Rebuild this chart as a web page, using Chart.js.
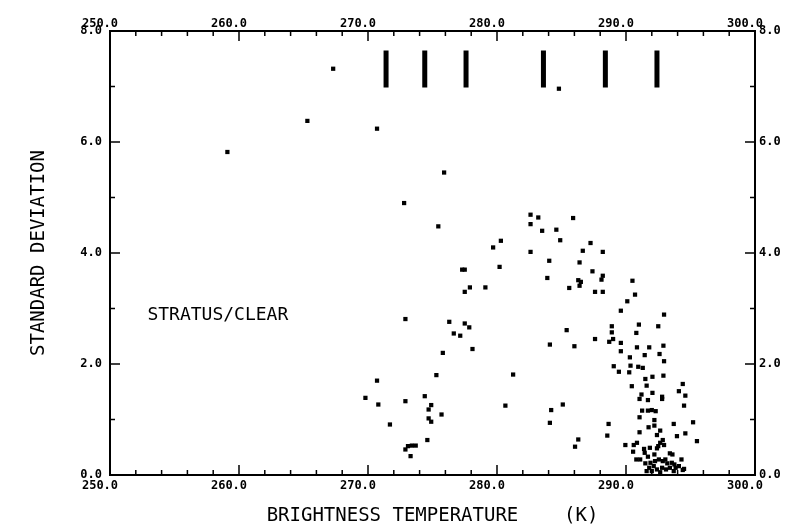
<!DOCTYPE html>
<html>
<head>
<meta charset="utf-8">
<script src="https://cdn.jsdelivr.net/npm/chart.js@4"></script>
<style>
  body { margin: 0; background: #fff; }
  #wrap { width: 787px; height: 527px; }
</style>
</head>
<body>
<div id="wrap"><canvas id="myChart"></canvas></div>
<script>
  // brightness temperature (K) and standard deviation of each sample
  const tempK = [
    259.1, 265.3, 267.3, 270.7, 284.8, 275.9,
    272.8, 275.45, 282.6, 282.6, 283.2, 285.9, 283.5, 284.6, 284.9, 280.3,
    279.7, 287.25, 286.65, 288.2, 282.6, 284.05, 286.4, 280.2, 277.3, 277.5,
    287.4, 288.2, 288.1, 283.9, 286.3, 286.5, 286.4, 290.5, 285.6, 277.9,
    279.1, 277.5, 287.6, 288.2, 290.7, 272.9, 276.3, 277.5, 277.85, 276.65,
    277.15, 285.4, 278.1, 284.1, 286.0, 275.8, 275.3, 281.25, 272.9, 274.4,
    274.9, 274.7, 274.7, 274.9, 275.7, 271.7, 280.65, 284.2, 285.1, 284.1,
    286.05, 274.6, 272.9, 273.1, 273.4, 273.7, 273.3, 269.8, 270.7, 270.8,
    290.1, 289.6, 292.95, 288.9, 288.9, 289.0, 288.7, 287.6, 291.0, 292.5,
    290.8, 289.6, 289.6, 290.85, 291.8, 292.9, 291.45, 290.3, 292.6, 292.95,
    289.05, 289.45, 290.25, 290.35, 290.95, 291.3, 292.05, 292.9, 291.5, 291.6,
    290.45, 294.4, 294.1, 294.6, 292.05, 291.2, 291.7, 291.05, 292.8, 292.8,
    294.5, 291.25, 291.7, 292.0, 292.3, 291.05, 292.2, 292.2, 291.75, 292.65,
    293.7, 295.2, 288.65, 288.55, 286.3, 291.05, 292.4, 293.95, 294.6, 295.5,
    289.95, 290.6, 290.85, 290.55, 291.4, 291.85, 292.5, 292.85, 292.95, 292.65,
    291.45, 290.8, 291.1, 291.7, 292.2, 292.4, 293.4, 293.6, 294.3, 291.5,
    291.9, 292.25, 292.55, 292.85, 293.05, 293.2, 293.55, 293.75, 291.8, 292.15,
    292.4, 292.8, 293.1, 293.4, 293.85, 294.4, 292.0, 292.65, 293.7, 294.1,
    294.5, 291.6
  ];
  const stdDev = [
    5.82, 6.38, 7.32, 6.24, 6.96, 5.45,
    4.90, 4.48, 4.69, 4.52, 4.64, 4.63, 4.40, 4.42, 4.23, 4.22,
    4.10, 4.18, 4.04, 4.02, 4.02, 3.86, 3.83, 3.75, 3.70, 3.70,
    3.67, 3.59, 3.52, 3.55, 3.51, 3.48, 3.41, 3.50, 3.37, 3.38,
    3.38, 3.30, 3.30, 3.30, 3.25, 2.81, 2.76, 2.73, 2.66, 2.55,
    2.51, 2.61, 2.27, 2.35, 2.32, 2.20, 1.80, 1.81, 1.33, 1.42,
    1.26, 1.18, 1.02, 0.96, 1.09, 0.91, 1.25, 1.17, 1.27, 0.94,
    0.51, 0.63, 0.46, 0.52, 0.53, 0.53, 0.34, 1.39, 1.70, 1.27,
    3.13, 2.96, 2.89, 2.68, 2.57, 2.45, 2.40, 2.45, 2.71, 2.68,
    2.56, 2.38, 2.23, 2.30, 2.30, 2.33, 2.16, 2.12, 2.18, 2.05,
    1.96, 1.86, 1.85, 1.97, 1.95, 1.93, 1.77, 1.79, 1.73, 1.61,
    1.60, 1.64, 1.51, 1.43, 1.48, 1.45, 1.35, 1.37, 1.41, 1.37,
    1.25, 1.16, 1.16, 1.17, 1.15, 1.04, 0.99, 0.89, 0.86, 0.80,
    0.92, 0.95, 0.92, 0.71, 0.64, 0.77, 0.72, 0.70, 0.75, 0.61,
    0.54, 0.54, 0.58, 0.42, 0.47, 0.49, 0.52, 0.63, 0.54, 0.58,
    0.40, 0.28, 0.28, 0.33, 0.37, 0.48, 0.39, 0.37, 0.28, 0.21,
    0.22, 0.25, 0.28, 0.25, 0.28, 0.21, 0.22, 0.19, 0.13, 0.16,
    0.10, 0.13, 0.10, 0.13, 0.13, 0.09, 0.07, 0.05, 0.07, 0.16,
    0.11, 0.07
  ];

  // vertical marker bars across the top
  const barTemps = [271.4, 274.4, 277.6, 283.6, 288.4, 292.4];
  const barLow = [6.98, 6.98, 6.98, 6.98, 6.98, 6.98];
  const barHigh = [7.65, 7.65, 7.65, 7.65, 7.65, 7.65];

  const xTicks = [250, 260, 270, 280, 290, 300];
  const xMinor = [252, 254, 256, 258, 262, 264, 266, 268, 272, 274, 276, 278,
                  282, 284, 286, 288, 292, 294, 296, 298];
  const yTicks = [0, 2, 4, 6, 8];
  const yMinor = [1, 3, 5, 7];

  const noteText = 'STRATUS/CLEAR';
  const noteAt = [252.9, 2.88];

  const FONT = "'DejaVu Sans Mono', 'Liberation Mono', monospace";

  const points = tempK.map((t, i) => ({ x: t, y: stdDev[i] }));
  const bars = [];
  barTemps.forEach((t, i) => {
    bars.push({ x: t, y: barLow[i] }, { x: t, y: barHigh[i] }, { x: t, y: null });
  });

  const fixedTicks = (vals) => (scale) => {
    scale.ticks = vals.map(v => ({ value: v }));
  };
  const tickLabel = (v) => Number(v).toFixed(1);

  // inward tick marks on all four sides + the in-plot note
  const frameTicks = {
    id: 'frameTicks',
    afterDatasetsDraw(chart) {
      const { ctx, chartArea: a, scales } = chart;
      ctx.save();
      ctx.strokeStyle = '#000';
      ctx.lineWidth = 1.5;
      ctx.beginPath();
      const xs = xTicks.map(v => [v, 10]).concat(xMinor.map(v => [v, 5]));
      xs.forEach(([v, len]) => {
        const px = scales.x.getPixelForValue(v);
        ctx.moveTo(px, a.bottom); ctx.lineTo(px, a.bottom - len);
        ctx.moveTo(px, a.top); ctx.lineTo(px, a.top + len);
      });
      const ys = yTicks.map(v => [v, 10]).concat(yMinor.map(v => [v, 5]));
      ys.forEach(([v, len]) => {
        const py = scales.y.getPixelForValue(v);
        ctx.moveTo(a.left, py); ctx.lineTo(a.left + len, py);
        ctx.moveTo(a.right, py); ctx.lineTo(a.right - len, py);
      });
      ctx.stroke();
      ctx.fillStyle = '#000';
      ctx.font = '18px ' + FONT;
      ctx.textBaseline = 'middle';
      ctx.textAlign = 'left';
      ctx.fillText(noteText, scales.x.getPixelForValue(noteAt[0]), scales.y.getPixelForValue(noteAt[1]));
      ctx.restore();
    }
  };

  const tickFont = { family: FONT, size: 12, weight: 'bold' };
  const border = { display: true, color: '#000', width: 2 };
  const noGrid = { display: false, drawTicks: false };

  const config = {
    type: 'scatter',
    data: {
      datasets: [{
        label: 'samples',
        data: points,
        pointStyle: 'rect',
        pointRadius: 3,
        pointBorderWidth: 0,
        backgroundColor: '#000',
        borderColor: '#000'
      }, {
        label: 'markers',
        data: bars,
        showLine: true,
        spanGaps: false,
        pointRadius: 0,
        borderWidth: 5,
        borderColor: '#000',
        borderCapStyle: 'butt'
      }]
    },
    options: {
      responsive: true,
      maintainAspectRatio: false,
      animation: false,
      layout: { padding: 0 },
      plugins: { legend: { display: false }, tooltip: { enabled: false } },
      scales: {
        x: {
          type: 'linear', position: 'bottom', min: 250, max: 300,
          afterBuildTicks: fixedTicks(xTicks),
          afterFit: (s) => { s.height = 52; },
          grid: noGrid, border: border,
          ticks: { color: '#000', font: tickFont, padding: 4, labelOffset: -10, maxRotation: 0, callback: tickLabel },
          title: {
            display: true, text: 'BRIGHTNESS TEMPERATURE    (K)', color: '#000',
            font: { family: FONT, size: 19, lineHeight: 1.2 }, padding: { top: 0, bottom: 0 }
          }
        },
        x2: {
          type: 'linear', position: 'top', min: 250, max: 300,
          afterBuildTicks: fixedTicks(xTicks),
          afterFit: (s) => { s.height = 31; },
          grid: noGrid, border: border,
          ticks: { color: '#000', font: tickFont, padding: 0, labelOffset: -10, maxRotation: 0, callback: tickLabel }
        },
        y: {
          type: 'linear', position: 'left', min: 0, max: 8,
          afterBuildTicks: fixedTicks(yTicks),
          afterFit: (s) => { s.width = 110; },
          grid: noGrid, border: border,
          ticks: { color: '#000', font: tickFont, padding: 8, callback: tickLabel },
          title: {
            display: true, text: 'STANDARD DEVIATION', color: '#000',
            font: { family: FONT, size: 19, lineHeight: 1.2 }, padding: { top: 28, bottom: 0 }
          }
        },
        y2: {
          type: 'linear', position: 'right', min: 0, max: 8,
          afterBuildTicks: fixedTicks(yTicks),
          afterFit: (s) => { s.width = 32; },
          grid: noGrid, border: border,
          ticks: { color: '#000', font: tickFont, padding: 4, callback: tickLabel }
        }
      }
    },
    plugins: [frameTicks]
  };

  const myChart = new Chart(document.getElementById('myChart'), config);
</script>
</body>
</html>
